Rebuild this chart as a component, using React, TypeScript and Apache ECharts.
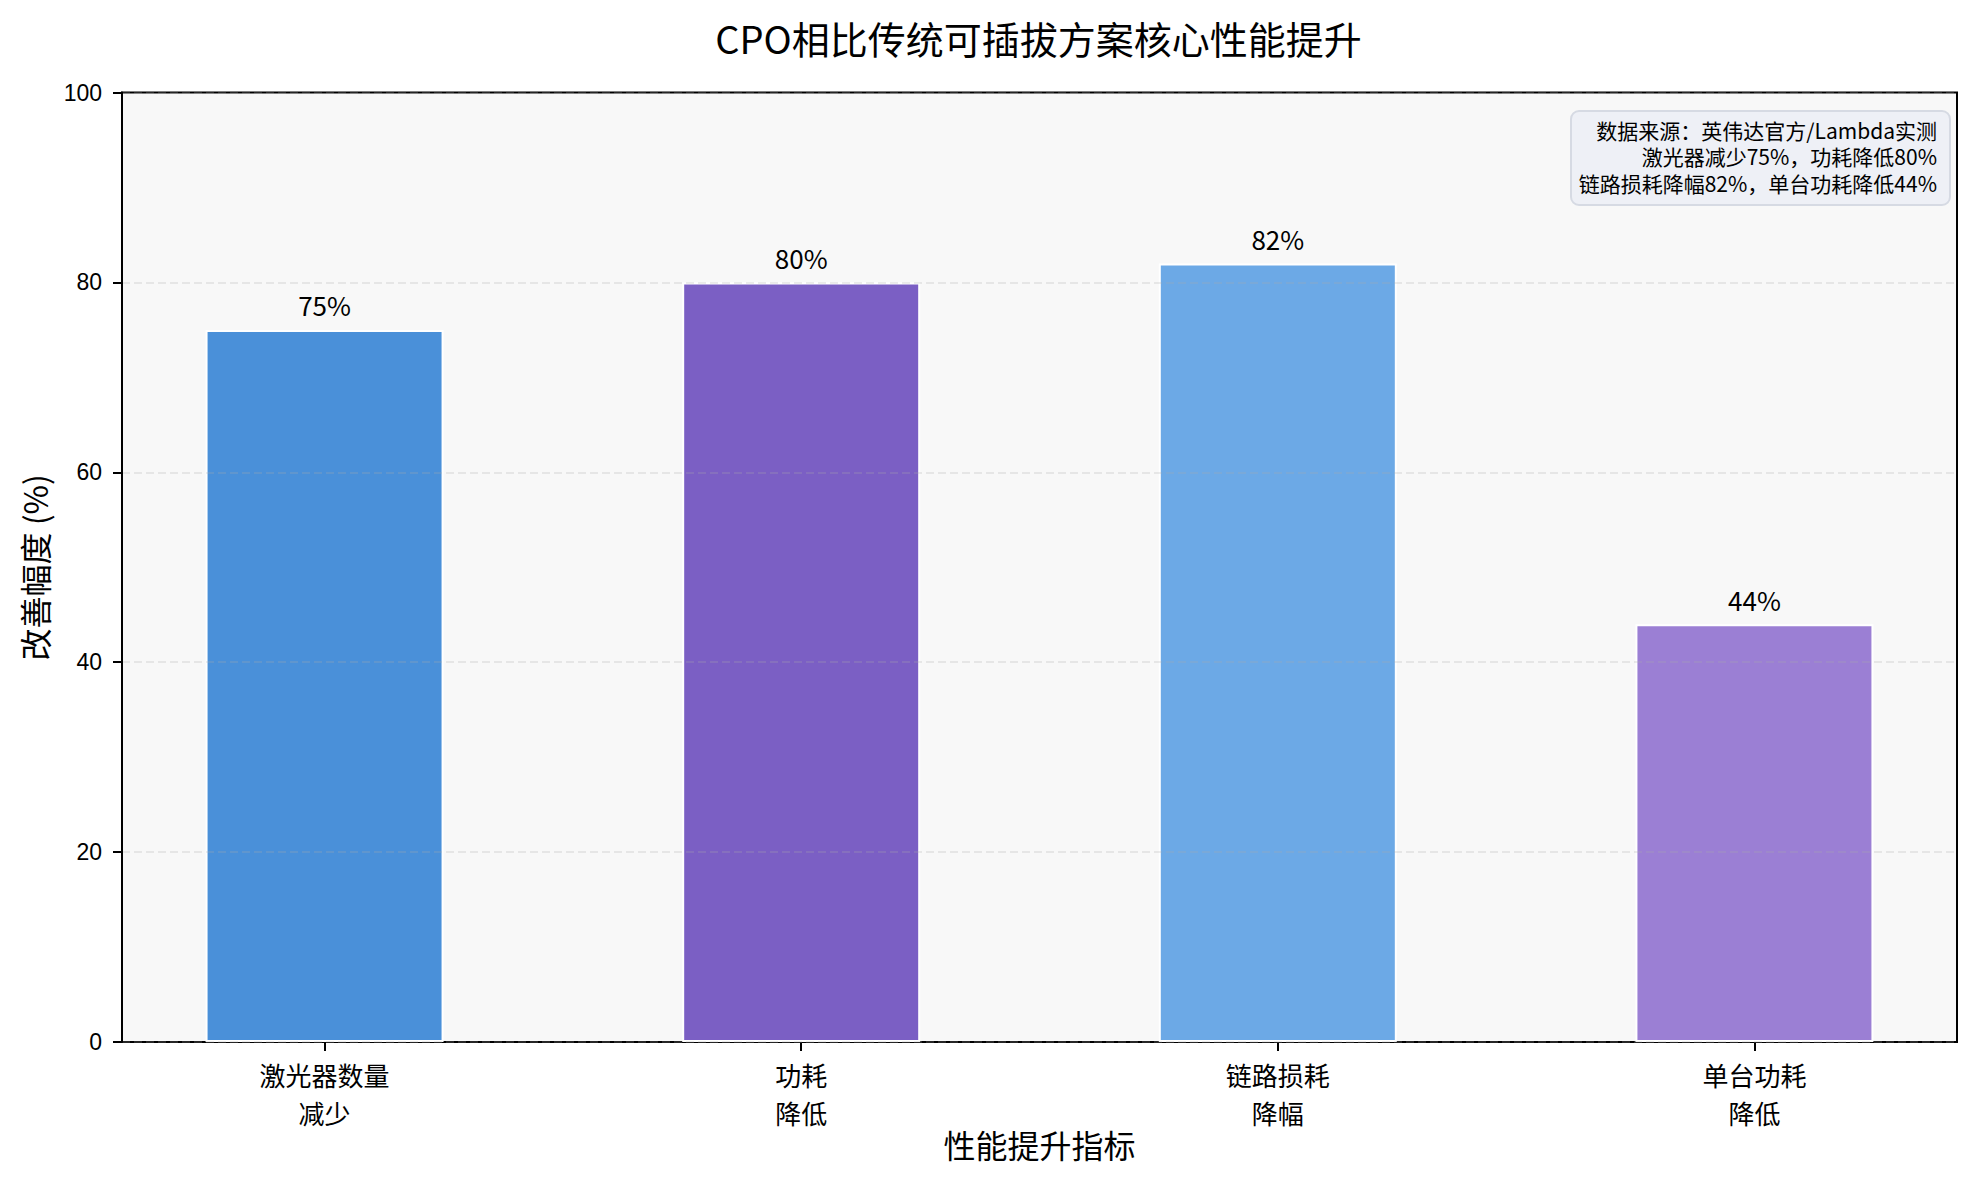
import React, { useEffect, useRef } from "react";
import * as echarts from "echarts";

const categories = ["激光器数量\n减少", "功耗\n降低", "链路损耗\n降幅", "单台功耗\n降低"];
const values = [75, 80, 82, 44];
const barColors = ["#4A90D9", "#7B5FC4", "#6CA9E6", "#9B7FD4"];
const positions = [0, 1, 2, 3];
const titleText = "CPO相比传统可插拔方案核心性能提升";
const xName = "性能提升指标";
const yName = "改善幅度 (%)";
const noteLines = [
  "数据来源：英伟达官方/Lambda实测",
  "激光器减少75%，功耗降低80%",
  "链路损耗降幅82%，单台功耗降低44%",
];

const CJK = "'Noto Sans CJK SC', sans-serif";
const SANS = "'Liberation Sans', 'Noto Sans CJK SC', sans-serif";

export default function App() {
  const ref = useRef<HTMLDivElement>(null);

  useEffect(() => {
    if (!ref.current) return;
    const chart = echarts.init(ref.current, null, { renderer: "svg" });
    chart.setOption({
      animation: false,
      backgroundColor: "#ffffff",
      title: {
        text: titleText,
        left: 1038.5,
        textAlign: "center",
        top: 18,
        padding: 0,
        textStyle: {
          fontFamily: CJK,
          fontSize: 38,
          fontWeight: "normal",
          color: "#000000",
        },
      },
      grid: {
        left: 122,
        right: 20,
        top: 92.5,
        bottom: 137,
        show: true,
        backgroundColor: "#F8F8F8",
        borderColor: "#000000",
        borderWidth: 2,
      },
      xAxis: {
        type: "value",
        min: -0.425,
        max: 3.425,
        name: xName,
        nameLocation: "middle",
        nameGap: 86,
        nameMoveOverlap: false,
        nameTextStyle: { fontFamily: CJK, fontSize: 32, color: "#000000" },
        axisLine: { show: true, onZero: false, lineStyle: { color: "#000000", width: 2 } },
        axisTick: {
          show: true,
          customValues: positions,
          length: 9,
          lineStyle: { color: "#000000", width: 2 },
        },
        axisLabel: {
          customValues: positions,
          formatter: (v: number) => categories[Math.round(v)] ?? "",
          fontFamily: CJK,
          fontSize: 26,
          lineHeight: 38,
          color: "#000000",
          margin: 13,
        },
        splitLine: { show: false },
      },
      yAxis: {
        type: "value",
        min: 0,
        max: 100,
        interval: 20,
        z: 5,
        name: yName,
        nameLocation: "middle",
        nameGap: 72,
        nameMoveOverlap: false,
        nameTextStyle: { fontFamily: CJK, fontSize: 32, color: "#000000" },
        axisLine: { show: true, onZero: false, lineStyle: { color: "#000000", width: 2 } },
        axisTick: { show: true, length: 9, lineStyle: { color: "#000000", width: 2 } },
        axisLabel: { fontFamily: SANS, fontSize: 23, color: "#000000", margin: 20 },
        splitLine: {
          show: true,
          lineStyle: { color: "rgba(176,176,176,0.3)", width: 1.5, type: [8, 4] },
        },
      },
      series: [
        {
          type: "bar",
          barWidth: 238,
          data: values.map((v, i) => ({
            value: [positions[i], v],
            itemStyle: { color: barColors[i] },
          })),
          itemStyle: { borderColor: "#ffffff", borderWidth: 2 },
          label: {
            show: true,
            position: "top",
            distance: 12,
            formatter: (p: any) => `${p.value[1]}%`,
            fontFamily: CJK,
            fontSize: 26,
            color: "#000000",
          },
        },
      ],
      graphic: [
        {
          type: "rect",
          right: 26,
          top: 110,
          z: 100,
          shape: { width: 379, height: 94, r: 8 },
          style: { fill: "#EEF0F6", stroke: "#D6DAE3", lineWidth: 2 },
        },
        ...noteLines.map((line, i) => ({
          type: "text",
          right: 40,
          top: 119 + i * 26.5,
          z: 101,
          style: {
            text: line,
            fontFamily: CJK,
            fontSize: 21,
            fill: "#000000",
          },
        })),
      ],
    });
    return () => chart.dispose();
  }, []);

  return (
    <div
      ref={ref}
      style={{ position: "fixed", left: 0, top: 0, width: 1977, height: 1179, background: "#fff" }}
    />
  );
}
